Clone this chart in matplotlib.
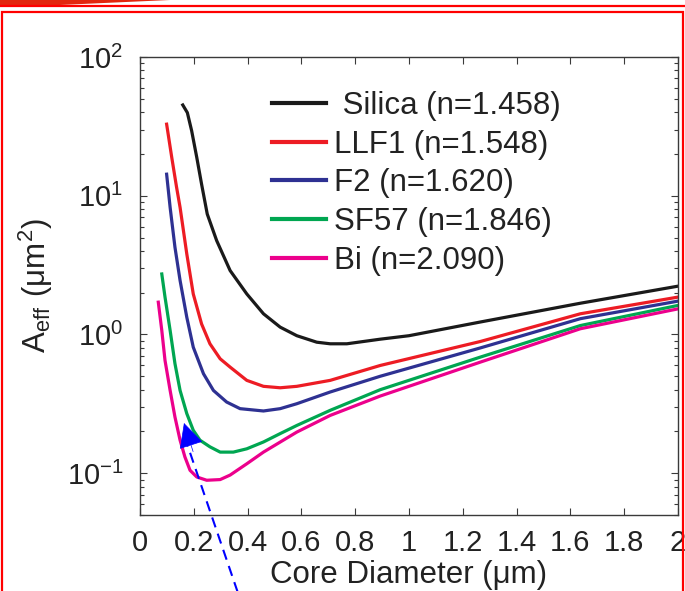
import numpy as np
import matplotlib
matplotlib.use("Agg")
import matplotlib.pyplot as plt
from matplotlib import font_manager as fm
from matplotlib.lines import Line2D
from matplotlib.patches import Polygon

# ---------------- data ----------------
labels = [" Silica (n=1.458)", "LLF1 (n=1.548)", "F2 (n=1.620)",
          "SF57 (n=1.846)", "Bi (n=2.090)"]
colors = ["#1a1a1a", "#ed1c24", "#2e3192", "#00a651", "#ec008c"]

silica_x = [0.159, 0.176, 0.192, 0.211, 0.229, 0.250, 0.285, 0.335, 0.397, 0.459,
            0.521, 0.583, 0.657, 0.707, 0.769, 0.893, 1.0, 1.265, 1.637, 2.0]
silica_y = [45.1, 39.7, 29.4, 18.9, 12.1, 7.38, 4.75, 2.89, 1.96, 1.41,
            1.13, 0.98, 0.88, 0.857, 0.857, 0.925, 0.98, 1.23, 1.68, 2.23]

llf1_x = [0.099, 0.118, 0.136, 0.149, 0.174, 0.198, 0.229, 0.260, 0.298, 0.335,
          0.397, 0.459, 0.521, 0.583, 0.707, 0.893, 1.265, 1.637, 2.0]
llf1_y = [32.8, 18.9, 11.5, 8.24, 3.80, 1.96, 1.19, 0.857, 0.668, 0.582,
          0.467, 0.423, 0.413, 0.423, 0.467, 0.598, 0.89, 1.41, 1.86]

f2_x = [0.099, 0.112, 0.130, 0.149, 0.174, 0.198, 0.236, 0.273, 0.322, 0.372,
        0.459, 0.521, 0.583, 0.707, 0.893, 1.265, 1.637, 2.0]
f2_y = [14.3, 8.24, 4.25, 2.45, 1.33, 0.81, 0.521, 0.395, 0.326, 0.292,
        0.281, 0.292, 0.317, 0.385, 0.50, 0.80, 1.30, 1.74]

sf57_x = [0.081, 0.093, 0.112, 0.130, 0.149, 0.174, 0.198, 0.223, 0.260, 0.298,
          0.347, 0.397, 0.459, 0.521, 0.583, 0.707, 0.893, 1.265, 1.637, 2.0]
sf57_y = [2.73, 1.86, 1.07, 0.616, 0.395, 0.269, 0.204, 0.173, 0.155, 0.142,
          0.142, 0.150, 0.168, 0.193, 0.221, 0.284, 0.40, 0.687, 1.16, 1.62]

bi_x = [0.068, 0.081, 0.093, 0.112, 0.130, 0.149, 0.167, 0.186, 0.211, 0.248,
        0.298, 0.335, 0.397, 0.459, 0.583, 0.707, 0.893, 1.265, 1.637, 2.0]
bi_y = [1.71, 1.07, 0.650, 0.395, 0.254, 0.173, 0.131, 0.105, 0.094, 0.089,
        0.090, 0.097, 0.117, 0.142, 0.198, 0.261, 0.36, 0.632, 1.10, 1.53]

series_x = [silica_x, llf1_x, f2_x, sf57_x, bi_x]
series_y = [silica_y, llf1_y, f2_y, sf57_y, bi_y]

xticks = [0, 0.2, 0.4, 0.6, 0.8, 1.0, 1.2, 1.4, 1.6, 1.8, 2.0]
xtick_labels = ["0", "0.2", "0.4", "0.6", "0.8", "1", "1.2", "1.4", "1.6", "1.8", "2"]
yticks = [0.1, 1, 10, 100]
ytick_labels = [r"$\mathregular{10^{-1}}$", r"$\mathregular{10^{0}}$",
                r"$\mathregular{10^{1}}$", r"$\mathregular{10^{2}}$"]

# ---------------- fonts ----------------
names = {f.name for f in fm.fontManager.ttflist}
NARROW = "Liberation Sans Narrow" in names
tick_family = "Liberation Sans Narrow" if NARROW else "Liberation Sans"
tick_size = 25 if NARROW else 21
plt.rcParams["font.family"] = ["Liberation Sans", "DejaVu Sans"]

W, H = 685, 591
fig = plt.figure(figsize=(W / 100, H / 100), dpi=100, facecolor="white")
ax = fig.add_axes([140 / W, (H - 515) / H, (678 - 140) / W, (515 - 57) / H])

for xs, ys, c, lab in zip(series_x, series_y, colors, labels):
    ax.plot(xs, ys, color=c, lw=2.3, label=lab, solid_joinstyle="round")

ax.set_yscale("log")
ax.set_xlim(0, 2)
ax.set_ylim(0.05, 100)
ax.set_xticks(xticks)
ax.set_xticklabels(xtick_labels)
ax.set_yticks(yticks)
ax.set_yticklabels(ytick_labels)

spine_c = "#3a3a3a"
for s in ax.spines.values():
    s.set_color(spine_c)
    s.set_linewidth(1.0)
ax.tick_params(which="both", direction="in", top=True, right=True,
               color=spine_c, width=0.8)
ax.tick_params(which="major", length=5)
ax.tick_params(which="minor", length=3)
ax.tick_params(axis="x", which="major", pad=10, labelsize=tick_size,
               labelfontfamily=tick_family, labelcolor="#222222")
ax.tick_params(axis="y", which="major", pad=12, labelsize=tick_size,
               labelfontfamily=tick_family, labelcolor="#222222")

ax.set_xlabel("Core Diameter (\u03bcm)", fontsize=22.5, color="#222222", labelpad=2)
ax.set_ylabel(r"$\mathregular{A_{eff}\ (\mu m^{2})}$", fontsize=22.5, color="#222222")
ax.yaxis.set_label_coords(-0.158, 0.5)

leg = ax.legend(loc="upper left", bbox_to_anchor=(0.245, 0.926), frameon=False,
                fontsize=22.5, handlelength=1.75, handletextpad=0.25,
                labelspacing=0.28, borderpad=0, borderaxespad=0)
for t in leg.get_texts():
    t.set_color("#222222")
for h in leg.legend_handles:
    h.set_linewidth(3.0)

# ---------------- annotation arrow (blue, dashed) ----------------
tip = (184, H - 423)
tail = (239, -5)
fig.add_artist(Line2D([tail[0] / W, tip[0] / W], [tail[1] / H, (tip[1] - 12) / H],
                      transform=fig.transFigure, color="#0000ff", lw=1.5,
                      ls=(0, (5, 3.2))))
d = np.array(tip) - np.array(tail)
d = d / np.hypot(*d)
back = (tip[0] - 30 * d[0], tip[1] - 30 * d[1])
fig.add_artist(matplotlib.patches.FancyArrowPatch(
    posA=(back[0] / W, back[1] / H), posB=(tip[0] / W, tip[1] / H),
    transform=fig.transFigure, arrowstyle="-|>,head_length=1.6,head_width=0.8",
    mutation_scale=10, color="#0000ff", lw=0.5, shrinkA=0, shrinkB=0))

# ---------------- red slide frame ----------------
red = "#ff0000"
fig.add_artist(Line2D([0, 1], [(H - 6) / H, (H - 6) / H], transform=fig.transFigure,
                      color=red, lw=1.6))
fig.add_artist(Line2D([2 / W, 2 / W, 683 / W, 683 / W],
                      [0, (H - 12) / H, (H - 12) / H, 0], transform=fig.transFigure,
                      color=red, lw=1.6, solid_joinstyle="miter"))
fig.add_artist(Polygon([(0, 1), (170 / W, 1), (60 / W, (H - 5) / H), (0, (H - 6) / H)],
                       closed=True, transform=fig.transFigure, facecolor="#e2260e",
                       edgecolor="none"))

fig.savefig("out.png", dpi=100, facecolor="white")
